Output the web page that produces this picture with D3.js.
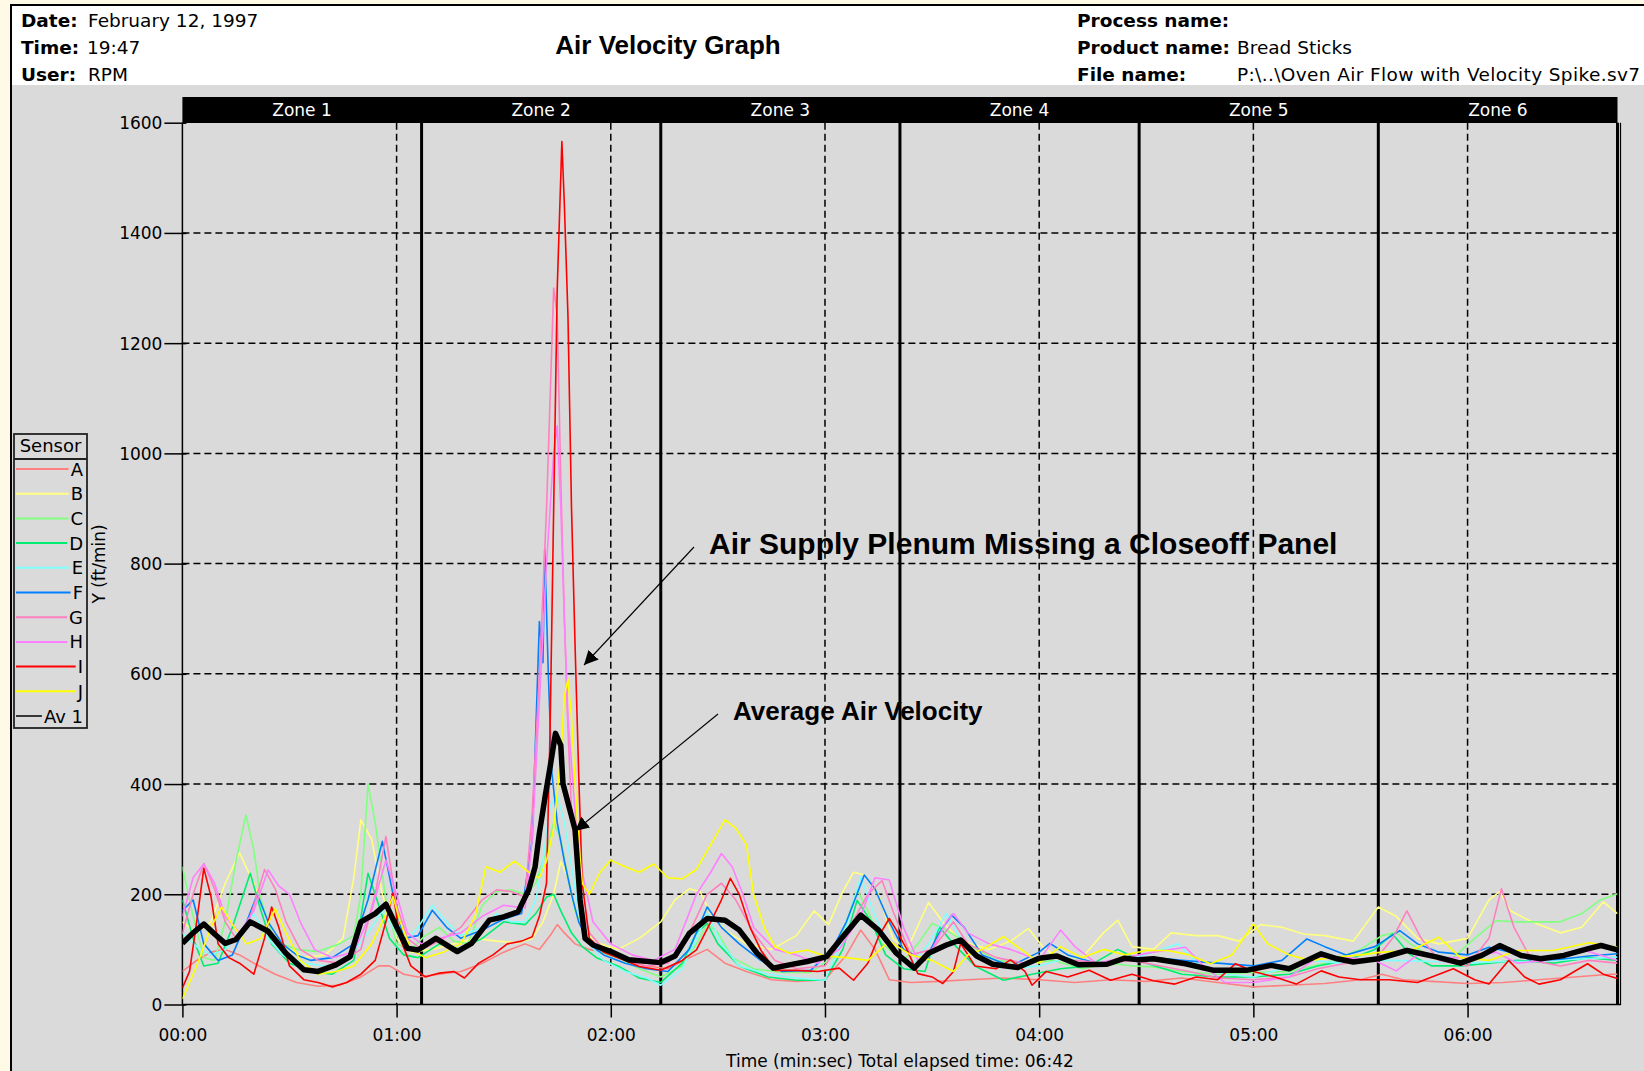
<!DOCTYPE html>
<html><head><meta charset="utf-8">
<script src="https://cdn.jsdelivr.net/npm/d3@7"></script>
<style>
html,body{margin:0;padding:0;background:#FFFAE6;overflow:hidden;}
svg{display:block;}
</style></head><body>
<svg id="c" width="1644" height="1071"></svg>
<script>
// ---------------- DATA ----------------
const chartTitle = "Air Velocity Graph";
const headerLeft = [["Date:", "February 12, 1997"], ["Time:", "19:47"], ["User:", "RPM"]];
const headerRight = [["Process name:", ""], ["Product name:", "Bread Sticks"], ["File name:", "P:\\..\\Oven Air Flow with Velocity Spike.sv7"]];
const zoneNames = ["Zone 1", "Zone 2", "Zone 3", "Zone 4", "Zone 5", "Zone 6"];
const zoneEndSeconds = [67, 134, 201, 268, 335, 402];
const xTickSeconds = [0, 60, 120, 180, 240, 300, 360];
const yTickValues = [0, 200, 400, 600, 800, 1000, 1200, 1400, 1600];
const yAxisLabel = "Y (ft/min)";
const xAxisLabel = "Time (min:sec) Total elapsed time: 06:42";
const legendTitle = "Sensor";
const sensorNames = ["A", "B", "C", "D", "E", "F", "G", "H", "I", "J", "Av 1"];
const sensorColors = ["#FF8080", "#FFFF80", "#80FF80", "#00EE70", "#80FFFF", "#0080FF", "#FF80C0", "#FF80FF", "#FF0000", "#FFFF00", "#000000"];
const annotations = ["Air Supply Plenum Missing a Closeoff Panel", "Average Air Velocity"];

// [seconds, ft/min]
const sensorA = [[0,60],[4,80],[8,95],[12,100],[16,90],[20,75],[26,55],[32,40],[38,33],[44,35],[50,50],[55,70],[58,70],[62,55],[66,50],[72,55],[78,60],[84,75],[90,95],[96,110],[100,100],[103,125],[105,145],[107,130],[110,110],[114,100],[118,95],[124,80],[130,70],[136,65],[142,85],[147,100],[152,75],[158,60],[165,45],[172,42],[180,45],[186,90],[190,135],[194,100],[198,45],[204,40],[212,42],[220,45],[230,48],[240,45],[250,40],[260,45],[270,42],[280,48],[290,40],[300,32],[310,35],[320,38],[330,45],[336,55],[342,45],[350,42],[360,38],[370,40],[380,45],[390,50],[400,55],[402,55]];
const sensorB = [[0,150],[4,130],[8,150],[12,220],[16,275],[20,220],[24,150],[28,110],[34,85],[40,90],[45,120],[48,230],[50,335],[53,300],[56,200],[60,120],[64,95],[70,100],[76,110],[82,120],[88,115],[94,112],[98,120],[101,150],[104,200],[106,260],[108,230],[110,170],[113,130],[117,110],[122,100],[128,120],[134,150],[138,190],[142,210],[145,205],[148,165],[152,135],[158,110],[165,100],[172,125],[177,170],[181,145],[185,205],[188,240],[191,235],[195,200],[199,120],[203,100],[209,185],[213,150],[218,115],[226,100],[232,115],[237,138],[241,105],[246,80],[252,85],[258,130],[262,153],[266,105],[272,100],[277,130],[284,125],[290,125],[296,115],[302,145],[308,140],[314,128],[320,125],[328,115],[335,177],[340,160],[346,120],[352,110],[360,120],[366,190],[369,205],[372,170],[378,150],[386,130],[392,140],[398,186],[402,165]];
const sensorC = [[0,250],[3,160],[6,85],[9,80],[12,150],[15,260],[17.8,344],[20,280],[22,190],[25,130],[28,110],[32,100],[38,96],[44,110],[48,125],[50,200],[52,400],[54,330],[57,190],[60,110],[64,100],[68,125],[72,140],[76,115],[80,110],[84,180],[88,205],[92,208],[96,200],[99,220],[102,280],[104,330],[106,300],[108,230],[110,170],[113,130],[117,95],[122,85],[128,65],[134,50],[140,70],[144,110],[147,147],[150,130],[154,85],[160,65],[168,58],[176,58],[182,85],[186,150],[189,208],[192,170],[196,110],[202,80],[206,110],[210,147],[214,135],[220,110],[228,80],[236,75],[244,80],[252,65],[260,75],[266,70],[272,68],[280,60],[290,55],[300,58],[310,60],[320,75],[330,100],[336,125],[340,131],[344,110],[350,85],[356,85],[362,120],[368,152],[374,150],[380,150],[386,150],[392,165],[397,189],[402,201]];
const sensorD = [[0,190],[3,120],[6,70],[10,75],[14,140],[19,238],[22,170],[25,110],[30,75],[36,60],[42,55],[48,80],[52,238],[55,180],[58,120],[62,90],[66,85],[72,110],[78,100],[84,120],[90,150],[96,145],[99,165],[102,195],[104,200],[106,170],[109,130],[112,105],[116,85],[122,70],[128,48],[134,40],[140,75],[144,130],[147,147],[150,110],[156,70],[164,50],[172,44],[180,44],[185,100],[189,189],[193,150],[197,90],[202,65],[208,60],[212,141],[216,110],[222,70],[230,44],[238,55],[246,65],[254,70],[262,100],[270,75],[280,55],[290,50],[300,50],[310,55],[318,70],[326,80],[334,100],[339,128],[344,90],[350,70],[358,70],[366,75],[374,80],[384,75],[394,85],[402,80]];
const sensorE = [[0,130],[4,105],[8,90],[12,100],[16,130],[20,165],[24,120],[28,90],[34,75],[40,70],[46,80],[52,130],[56,170],[59,140],[62,110],[66,140],[70,180],[74,150],[78,125],[84,140],[88,165],[92,150],[96,150],[99,190],[101,260],[103,360],[105,380],[107,330],[109,250],[111,170],[114,110],[118,80],[124,60],[130,48],[134,35],[140,65],[144,120],[147,165],[151,110],[156,70],[164,55],[172,48],[180,44],[185,120],[190,232],[194,160],[198,110],[204,70],[209,110],[214,165],[218,120],[224,80],[232,65],[240,70],[248,85],[256,70],[264,80],[272,95],[279,110],[285,70],[292,55],[300,50],[308,65],[316,80],[324,75],[332,80],[340,80],[350,78],[360,75],[370,78],[380,78],[390,82],[402,86]];
const sensorF = [[0,170],[3,190],[6,110],[10,80],[14,90],[18,150],[21,200],[24,150],[28,110],[32,90],[36,80],[42,85],[48,110],[52,190],[56,296],[59,200],[62,120],[66,125],[70,171],[74,140],[78,120],[84,135],[90,155],[95,165],[98,300],[100,695],[101,620],[101.5,826],[102.5,600],[103.5,420],[105,330],[107,260],[109,200],[111,150],[114,110],[118,90],[124,75],[130,65],[136,60],[142,100],[147,177],[151,140],[156,110],[162,80],[168,60],[176,62],[182,100],[186,150],[191,235],[194,210],[198,150],[202,100],[208,80],[212,130],[215.5,162],[219,140],[224,90],[232,70],[240,95],[243,111],[248,90],[256,75],[264,80],[272,85],[280,80],[290,75],[300,70],[308,80],[315,119],[320,105],[326,90],[334,105],[341,134],[346,110],[352,95],[360,90],[366,104],[372,95],[378,80],[386,82],[394,88],[402,92]];
const sensorG = [[0,129],[3,200],[6,256],[9,210],[12,150],[15,120],[18,140],[21,200],[23,245],[26,210],[29,150],[33,100],[38,80],[44,75],[50,100],[54,200],[57,305],[60,180],[63,120],[67,100],[72,115],[78,140],[84,190],[88,208],[92,205],[96,195],[98,350],[100,600],[102,900],[104,1300],[105,1250],[106,950],[107,700],[108,500],[109,350],[111,200],[114,130],[118,100],[124,80],[130,70],[136,75],[142,130],[147,200],[151,220],[155,190],[160,130],[166,80],[172,65],[180,70],[186,130],[192,200],[196,225],[199,170],[204,90],[210,100],[216,150],[220,110],[228,85],[236,75],[244,90],[250,80],[258,75],[266,80],[274,70],[282,60],[290,48],[300,45],[310,50],[318,65],[326,75],[334,80],[339,120],[343,170],[347,120],[352,80],[360,70],[366,120],[369.5,210],[373,140],[378,80],[386,70],[394,80],[402,75]];
const sensorH = [[0,160],[3,230],[6,255],[9,220],[12,160],[16,130],[20,170],[24,244],[27,215],[30,200],[33,150],[37,100],[42,85],[48,95],[53,170],[57,262],[60,200],[63,130],[67,110],[72,120],[78,130],[84,160],[90,180],[96,175],[98,300],[100,550],[102,800],[104,1000],[105,1050],[106,900],[107,700],[108,520],[110,350],[112,240],[115,150],[120,110],[126,90],[132,80],[138,100],[144,200],[148,240],[151,274],[154,250],[157,200],[160,140],[166,100],[172,90],[178,75],[184,100],[190,160],[194,230],[198,226],[202,140],[206,80],[210,100],[214,150],[216,165],[220,130],[226,110],[232,100],[240,80],[246,135],[250,105],[256,75],[264,85],[272,95],[281,104],[286,70],[292,40],[300,40],[310,50],[318,85],[326,85],[334,80],[340,61],[346,90],[352,85],[360,85],[368,95],[374,75],[382,80],[392,100],[402,80]];
const sensorI = [[0,30],[2,60],[4,150],[6,247],[8,196],[10,110],[13,85],[16,75],[20,55],[23,120],[25,177],[27,140],[30,70],[34,45],[38,40],[42,32],[46,40],[50,55],[54,80],[57,150],[59,202],[61,120],[64,70],[68,50],[72,57],[76,60],[79,48],[83,75],[87,90],[91,110],[95,115],[98,123],[100,160],[102,220],[103,500],[104,900],[105,1300],[106.3,1566],[107,1450],[108,1250],[109,900],[110,650],[111,420],[112,220],[114,120],[118,95],[124,80],[128,69],[134,62],[140,80],[144,99],[148,150],[151,190],[153.5,229],[156,200],[159,140],[162,99],[166,62],[172,62],[178,60],[184,66],[188,44],[192,75],[195,123],[198,156],[200,135],[203,99],[206,56],[210,50],[213,38],[216,60],[218,111],[222,70],[228,65],[232,81],[236,60],[238,35],[242,60],[248,50],[254,62],[260,44],[266,55],[272,43],[278,37],[284,50],[290,45],[295,74],[300,60],[306,50],[312,37],[319,61],[324,50],[330,45],[338,45],[346,40],[352,55],[356,65],[362,45],[366,37],[371.5,80],[376,50],[380,37],[386,45],[393.6,74],[398,55],[402,47]];
const sensorJ = [[0,10],[2,40],[4,70],[8,140],[11,177],[14,145],[18,110],[22,120],[26,174],[29,130],[33,80],[38,55],[43,60],[48,70],[53,110],[56,150],[59,196],[61,150],[64,100],[68,85],[73,95],[78,110],[82,160],[85,250],[89,240],[93,260],[96,245],[98,235],[100,230],[102,260],[104,320],[106,450],[107,560],[108,590],[109,520],[110,400],[111,300],[112,220],[114,200],[117,240],[120,262],[124,250],[128,240],[132,255],[136,230],[140,228],[144,245],[148,290],[152,335],[155,320],[158,290],[160,200],[163,140],[166,105],[170,93],[175,99],[180,88],[186,85],[192,80],[198,115],[204,90],[210,80],[216,60],[220,90],[224,100],[230,123],[236,95],[240,75],[246,105],[252,85],[258,100],[264,90],[270,98],[276,98],[282,90],[288,74],[294,90],[300,146],[304,110],[310,90],[316,80],[322,85],[330,90],[336,95],[344,98],[352,122],[358,85],[366,80],[374,98],[384,98],[394,112],[402,104]];
const average = [[0,111],[3,130],[6,146],[9,128],[12,111],[15,118],[19,150],[24,133],[29,93],[34,63],[38,60],[43,72],[47,87],[50,150],[54,165],[57,182],[60,141],[63,102],[66,99],[71,120],[77,96],[81,111],[86,153],[90,159],[94,168],[97,208],[98.8,250],[100,311],[101.6,377],[103,431],[104.5,492],[106,470],[106.6,401],[110,317],[111.4,190],[112.8,120],[115,108],[120,96],[125,81],[134,76],[138,88],[142,129],[147,156],[152,153],[156,135],[161,93],[165.5,66],[170,72],[175,78],[180.5,87],[185,123],[190,162],[195,135],[200,93],[205,66],[209,93],[214,108],[218,117],[222.5,88],[227,73],[234,67],[240,84],[245,88],[251,72],[259,73],[264,84],[268,81],[272,83],[281,74],[289,62],[298,62],[305,71],[310,65],[315,80],[319,92],[323.5,83],[328,77],[335,83],[343,98],[351.5,86],[358,75],[364,89],[369,107],[375,89],[380.5,83],[387,89],[393.6,101],[397.4,107],[402,99]];
const allSeries = [sensorA, sensorB, sensorC, sensorD, sensorE, sensorF, sensorG, sensorH, sensorI, sensorJ, average];

// ---------------- LAYOUT ----------------
const svg = d3.select("#c");
const W = 1644, H = 1071;
const plot = {left: 182.4, right: 1617.5, top: 122.7, bottom: 1004.5};
const x = d3.scaleLinear().domain([0, 402]).range([plot.left, plot.right]);
const y = d3.scaleLinear().domain([0, 1600]).range([plot.bottom, plot.top]);
const sans = "'DejaVu Sans', Verdana, sans-serif";
const arial = "'Liberation Sans', Arial, sans-serif";

svg.append("rect").attr("width", W).attr("height", H).attr("fill", "#FFFAE6");
// panel
svg.append("rect").attr("x", 11).attr("y", 5).attr("width", 1700).attr("height", 1200)
  .attr("fill", "#DADADA").attr("stroke", "#000").attr("stroke-width", 2);
svg.append("rect").attr("x", 12).attr("y", 6).attr("width", 1700).attr("height", 79).attr("fill", "#FFFFFF");

// header
const rowY = [27, 54, 81];
const leftValX = [88, 87, 88];
headerLeft.forEach((r, i) => {
  svg.append("text").attr("x", 21).attr("y", rowY[i]).attr("font-family", sans).attr("font-weight", "bold")
    .attr("font-size", 18.5).attr("fill", "#000").text(r[0]);
  svg.append("text").attr("x", leftValX[i]).attr("y", rowY[i]).attr("font-family", sans)
    .attr("font-size", 18.5).attr("fill", "#000").text(r[1]);
});
headerRight.forEach((r, i) => {
  svg.append("text").attr("x", 1077).attr("y", rowY[i]).attr("font-family", sans).attr("font-weight", "bold")
    .attr("font-size", 18.5).attr("fill", "#000").text(r[0]);
  const v = svg.append("text").attr("x", 1237).attr("y", rowY[i]).attr("font-family", sans)
    .attr("font-size", 18.5).attr("fill", "#000").text(r[1]);
  if (i === 2) v.attr("textLength", 403).attr("lengthAdjust", "spacing");
});
svg.append("text").attr("x", 668).attr("y", 54).attr("text-anchor", "middle").attr("font-family", arial)
  .attr("font-weight", "bold").attr("font-size", 26).attr("fill", "#000").text(chartTitle);

// zone bar
svg.append("rect").attr("x", plot.left).attr("y", 97).attr("width", plot.right - plot.left).attr("height", 26).attr("fill", "#000");
const zoneStarts = [0].concat(zoneEndSeconds.slice(0, -1));
zoneNames.forEach((z, i) => {
  svg.append("text").attr("x", (x(zoneStarts[i]) + x(zoneEndSeconds[i])) / 2).attr("y", 116)
    .attr("text-anchor", "middle").attr("font-family", sans).attr("font-size", 17).attr("fill", "#FFF").text(z);
});

// grid
const g = svg.append("g");
yTickValues.filter(v => v > 0 && v < 1600).forEach(v => {
  g.append("line").attr("x1", plot.left).attr("x2", plot.right).attr("y1", y(v)).attr("y2", y(v))
    .attr("stroke", "#000").attr("stroke-width", 1.5).attr("stroke-dasharray", "7,4");
});
xTickSeconds.filter(s => s > 0).forEach(s => {
  g.append("line").attr("x1", x(s)).attr("x2", x(s)).attr("y1", plot.top).attr("y2", plot.bottom)
    .attr("stroke", "#000").attr("stroke-width", 1.5).attr("stroke-dasharray", "7,4");
});

// zone boundaries
zoneEndSeconds.forEach(s => {
  g.append("line").attr("x1", x(s)).attr("x2", x(s)).attr("y1", plot.top).attr("y2", plot.bottom)
    .attr("stroke", "#000").attr("stroke-width", 3);
});
g.append("line").attr("x1", plot.right + 3).attr("x2", plot.right + 3).attr("y1", plot.top).attr("y2", plot.bottom)
  .attr("stroke", "#000").attr("stroke-width", 1.2);

// axes
const yAxis = d3.axisLeft(y).tickValues(yTickValues).tickSize(0).tickPadding(0).tickFormat(d3.format("d"));
const yg = svg.append("g").attr("transform", `translate(${plot.left},0)`).call(yAxis);
yg.select(".domain").remove();
yg.selectAll(".tick text").attr("x", -20).attr("dy", "0.35em").attr("font-family", sans).attr("font-size", 17).attr("fill", "#000");
yg.selectAll(".tick").append("line").attr("x1", -18).attr("x2", 4).attr("stroke", "#000").attr("stroke-width", 1.5);

const fmt = s => String(Math.floor(s / 60)).padStart(2, "0") + ":" + String(s % 60).padStart(2, "0");
const xAxis = d3.axisBottom(x).tickValues(xTickSeconds).tickSize(0).tickFormat(fmt);
const xg = svg.append("g").attr("transform", `translate(0,${plot.bottom})`).call(xAxis);
xg.select(".domain").remove();
xg.selectAll(".tick text").attr("y", 36).attr("dy", 0).attr("font-family", sans).attr("font-size", 17).attr("fill", "#000");
xg.selectAll(".tick").append("line").attr("y1", 0).attr("y2", 13).attr("stroke", "#000").attr("stroke-width", 1.5);

svg.append("line").attr("x1", plot.left).attr("x2", plot.left).attr("y1", plot.top).attr("y2", plot.bottom).attr("stroke", "#000").attr("stroke-width", 1.5);
svg.append("line").attr("x1", plot.left).attr("x2", plot.right + 3.6).attr("y1", plot.bottom).attr("y2", plot.bottom).attr("stroke", "#000").attr("stroke-width", 1.5);

svg.append("text").attr("x", (plot.left + plot.right) / 2).attr("y", 1067).attr("text-anchor", "middle")
  .attr("font-family", sans).attr("font-size", 17).attr("fill", "#000").text(xAxisLabel);
svg.append("text").attr("transform", "translate(105,564) rotate(-90)").attr("text-anchor", "middle")
  .attr("font-family", sans).attr("font-size", 17).attr("fill", "#000").text(yAxisLabel);

// data lines
svg.append("clipPath").attr("id", "pc").append("rect").attr("x", plot.left).attr("y", plot.top)
  .attr("width", plot.right - plot.left).attr("height", plot.bottom - plot.top);
const line = d3.line().x(d => x(d[0])).y(d => y(d[1]));
const dg = svg.append("g").attr("clip-path", "url(#pc)");
allSeries.forEach((s, i) => {
  const isAvg = i === allSeries.length - 1;
  dg.append("path").attr("d", line(s)).attr("fill", "none").attr("stroke", sensorColors[i])
    .attr("stroke-width", isAvg ? 5.5 : 1.6).attr("stroke-linejoin", "round");
});

// annotations
const defs = svg.append("defs");
defs.append("marker").attr("id", "ah").attr("viewBox", "0 0 10 10").attr("refX", 10).attr("refY", 5)
  .attr("markerWidth", 14).attr("markerHeight", 14).attr("markerUnits", "userSpaceOnUse").attr("orient", "auto")
  .append("path").attr("d", "M0,0 L10,5 L0,10 Z").attr("fill", "#000");
svg.append("line").attr("x1", 694).attr("y1", 547).attr("x2", 584).attr("y2", 665)
  .attr("stroke", "#000").attr("stroke-width", 1.1).attr("marker-end", "url(#ah)");
svg.append("line").attr("x1", 718).attr("y1", 714).attr("x2", 575).attr("y2", 831)
  .attr("stroke", "#000").attr("stroke-width", 1.1).attr("marker-end", "url(#ah)");
svg.append("text").attr("x", 709).attr("y", 554).attr("font-family", arial).attr("font-weight", "bold")
  .attr("font-size", 30).attr("fill", "#000").text(annotations[0]);
svg.append("text").attr("x", 733).attr("y", 720).attr("font-family", arial).attr("font-weight", "bold")
  .attr("font-size", 26).attr("fill", "#000").text(annotations[1]);

// legend
const lg = svg.append("g");
lg.append("rect").attr("x", 14).attr("y", 434).attr("width", 73).attr("height", 294).attr("fill", "none")
  .attr("stroke", "#222").attr("stroke-width", 1.8);
lg.append("line").attr("x1", 14).attr("x2", 87).attr("y1", 459).attr("y2", 459).attr("stroke", "#222").attr("stroke-width", 1.8);
lg.append("text").attr("x", 50.5).attr("y", 452).attr("text-anchor", "middle").attr("font-family", sans)
  .attr("font-size", 18).attr("fill", "#000").text(legendTitle);
sensorNames.forEach((n, i) => {
  const yy = 469 + i * 24.7;
  const t = lg.append("text").attr("x", 83).attr("y", yy + 6.5).attr("text-anchor", "end").attr("font-family", sans)
    .attr("font-size", 18).attr("fill", "#000").text(n);
  const w = t.node().getComputedTextLength();
  lg.append("line").attr("x1", 16).attr("x2", 83 - w - 2).attr("y1", yy).attr("y2", yy)
    .attr("stroke", sensorColors[i]).attr("stroke-width", i === sensorNames.length - 1 ? 1.5 : 2);
});
</script>
</body></html>
